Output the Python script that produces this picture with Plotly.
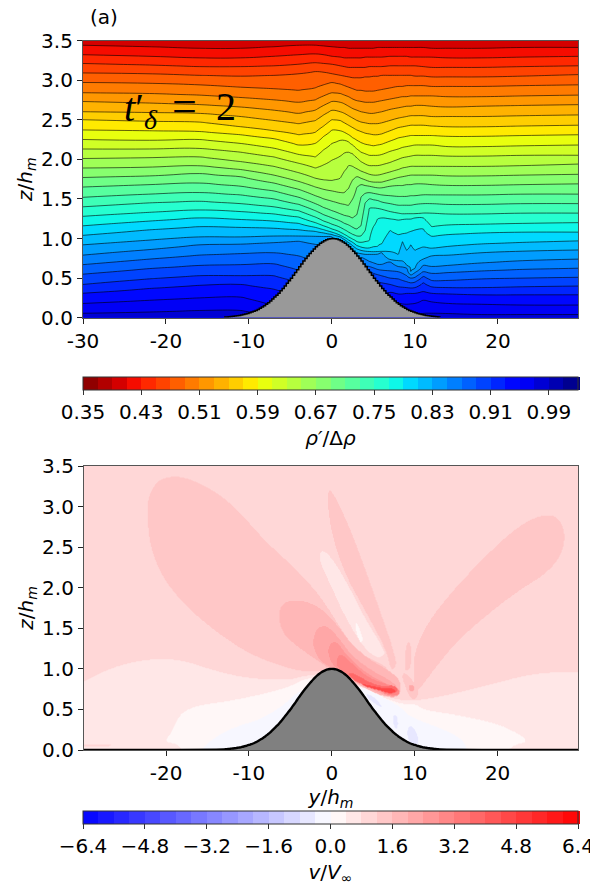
import numpy as np
import plotly.graph_objects as go

# ---------- panel (a): isopycnal heights z/hm read at stations y/hm ----------
stations = [-30,-22,-16,-11,-7,-4,-2,-1, 0,1,1.5,2,2.5,3,3.5,4,4.5,5,5.5,6, 7,8,8.5,9,9.5,10,11,12, 14,18,23,29.7]
first_level = 0.41
level_step = 0.02
isopycnals = [
[3.44,3.42,3.40,3.40,3.42,3.44,3.44,3.43, 3.42,3.41,3.41,3.40,3.40,3.40,3.40,3.40,3.40,3.40,3.41,3.41, 3.41,3.41,3.41,3.41,3.41,3.41,3.41,3.40, 3.40,3.40,3.41,3.41],
[3.32,3.30,3.28,3.28,3.30,3.32,3.33,3.32, 3.30,3.29,3.28,3.28,3.28,3.28,3.28,3.29,3.29,3.29,3.29,3.29, 3.30,3.30,3.30,3.30,3.29,3.29,3.29,3.29, 3.28,3.28,3.29,3.30],
[3.21,3.19,3.17,3.17,3.18,3.20,3.22,3.21, 3.20,3.18,3.17,3.16,3.16,3.16,3.16,3.16,3.17,3.17,3.17,3.17, 3.18,3.18,3.18,3.18,3.18,3.18,3.17,3.16, 3.16,3.16,3.17,3.18],
[3.09,3.08,3.06,3.05,3.06,3.08,3.11,3.10, 3.08,3.06,3.05,3.04,3.03,3.03,3.03,3.04,3.04,3.05,3.05,3.06, 3.06,3.06,3.06,3.06,3.06,3.05,3.05,3.04, 3.04,3.04,3.05,3.07],
[2.97,2.96,2.94,2.91,2.89,2.87,2.90,2.94, 2.97,2.95,2.93,2.91,2.89,2.87,2.87,2.86,2.86,2.86,2.87,2.88, 2.90,2.92,2.92,2.93,2.93,2.93,2.93,2.92, 2.92,2.92,2.93,2.94],
[2.84,2.83,2.81,2.78,2.75,2.72,2.75,2.80, 2.84,2.83,2.81,2.79,2.76,2.74,2.73,2.72,2.72,2.72,2.73,2.74, 2.76,2.78,2.79,2.79,2.80,2.80,2.80,2.80, 2.79,2.79,2.80,2.81],
[2.73,2.71,2.69,2.66,2.62,2.58,2.62,2.68, 2.73,2.72,2.70,2.67,2.64,2.62,2.60,2.59,2.58,2.58,2.59,2.60, 2.63,2.65,2.66,2.67,2.67,2.68,2.68,2.67, 2.66,2.67,2.68,2.69],
[2.60,2.59,2.58,2.54,2.49,2.45,2.49,2.56, 2.62,2.60,2.58,2.55,2.52,2.49,2.47,2.46,2.45,2.45,2.45,2.46, 2.49,2.52,2.53,2.54,2.55,2.55,2.55,2.54, 2.54,2.54,2.55,2.56],
[2.50,2.48,2.47,2.41,2.36,2.31,2.34,2.42, 2.50,2.49,2.46,2.43,2.40,2.37,2.35,2.33,2.32,2.31,2.31,2.32, 2.36,2.40,2.41,2.42,2.43,2.43,2.43,2.42, 2.41,2.41,2.42,2.43],
[2.37,2.36,2.35,2.31,2.26,2.18,2.20,2.29, 2.37,2.36,2.34,2.31,2.27,2.24,2.21,2.19,2.18,2.17,2.18,2.19, 2.23,2.27,2.28,2.29,2.30,2.30,2.30,2.30, 2.29,2.29,2.30,2.31],
[2.25,2.24,2.25,2.20,2.14,2.06,2.03,2.12, 2.20,2.24,2.24,2.22,2.18,2.13,2.09,2.07,2.05,2.05,2.05,2.06, 2.10,2.13,2.15,2.16,2.17,2.18,2.18,2.18, 2.16,2.16,2.17,2.18],
[2.13,2.13,2.14,2.09,2.03,1.95,1.89,1.93, 1.99,2.04,2.08,2.09,2.07,2.02,1.97,1.94,1.92,1.92,1.92,1.93, 1.96,2.00,2.02,2.03,2.04,2.05,2.05,2.05, 2.04,2.04,2.05,2.05],
[2.01,2.02,2.03,1.97,1.91,1.83,1.76,1.74, 1.73,1.76,1.85,1.92,1.91,1.88,1.85,1.83,1.81,1.80,1.80,1.81, 1.84,1.87,1.89,1.90,1.91,1.91,1.91,1.91, 1.91,1.91,1.92,1.94],
[1.89,1.90,1.92,1.87,1.80,1.72,1.65,1.62, 1.60,1.58,1.58,1.63,1.74,1.78,1.76,1.74,1.72,1.71,1.71,1.71, 1.74,1.77,1.78,1.79,1.80,1.80,1.80,1.80, 1.79,1.79,1.80,1.81],
[1.77,1.79,1.82,1.78,1.70,1.62,1.54,1.50, 1.47,1.44,1.43,1.42,1.50,1.65,1.68,1.67,1.66,1.65,1.64,1.64, 1.66,1.67,1.67,1.68,1.68,1.69,1.69,1.68, 1.67,1.67,1.68,1.69],
[1.65,1.68,1.70,1.66,1.60,1.52,1.44,1.39, 1.35,1.31,1.29,1.28,1.26,1.30,1.52,1.57,1.58,1.57,1.56,1.55, 1.54,1.53,1.53,1.53,1.54,1.54,1.55,1.55, 1.55,1.55,1.56,1.56],
[1.52,1.56,1.58,1.55,1.50,1.43,1.35,1.30, 1.26,1.22,1.19,1.17,1.14,1.12,1.16,1.45,1.50,1.49,1.48,1.46, 1.44,1.42,1.42,1.42,1.42,1.43,1.44,1.44, 1.43,1.43,1.44,1.44],
[1.40,1.45,1.47,1.44,1.40,1.35,1.27,1.22, 1.18,1.14,1.11,1.08,1.05,1.03,1.03,1.10,1.38,1.39,1.38,1.37, 1.34,1.32,1.31,1.31,1.31,1.31,1.32,1.32, 1.31,1.31,1.32,1.32],
[1.28,1.33,1.36,1.34,1.31,1.27,1.20,1.16, 1.12,1.08,1.05,1.02,.99,.96,.95,.96,.97,1.15,1.25,1.26, 1.25,1.235,1.24,1.25,1.25,1.26,1.26,1.15, 1.17,1.18,1.19,1.20],
[1.16,1.22,1.26,1.24,1.22,1.19,1.14,1.11, 1.08,1.04,1.01,.98,.95,.91,.89,.88,.88,.89,.90,.93, 1.10,1.05,1.06,1.07,1.09,1.11,1.12,1.03, 1.05,1.07,1.08,1.08],
[1.04,1.11,1.15,1.14,1.13,1.11,1.09,1.07, 1.05,1.02,.99,.95,.91,.87,.85,.84,.835,.83,.83,.83, .83,.80,.96,.85,.92,.85,.89,.876, .90,.93,.95,.97],
[.92,.98,1.02,1.02,1.03,1.03,1.03,1.03, 1.02,.99,.95,.91,.86,.82,.81,.80,.80,.80,.81,.82, .73,.72,.71,.66,.58,.62,.74,.78, .79,.82,.84,.855],
[.79,.86,.92,.93,.95,.97,.93,.90, .80,.80,.80,.78,.76,.74,.76,.74,.71,.69,.67,.67, .71,.645,.64,.63,.54,.57,.66,.645, .66,.69,.72,.74],
[.67,.74,.79,.81,.82,.78,.70,.70, .70,.70,.70,.70,.70,.70,.70,.66,.645,.63,.61,.60, .59,.58,.56,.53,.50,.51,.58,.56, .57,.59,.61,.625],
[.55,.62,.66,.67,.68,.60,.60,.60, .60,.60,.60,.60,.60,.60,.60,.60,.60,.56,.545,.53, .50,.49,.47,.455,.44,.45,.52,.47, .47,.49,.50,.51],
[.42,.49,.53,.53,.53,.45,.45,.45, .45,.45,.45,.45,.45,.45,.45,.45,.45,.45,.455,.44, .42,.39,.385,.38,.375,.38,.44,.39, .38,.38,.39,.40],
[.31,.37,.41,.42,.36,.28,.28,.28, .28,.28,.28,.28,.28,.28,.28,.28,.28,.28,.28,.28, .32,.30,.30,.31,.31,.31,.33,.31, .30,.29,.29,.29],
[.18,.22,.25,.26,.15,.12,.12,.12, .12,.12,.12,.12,.12,.12,.12,.12,.12,.12,.12,.12, .12,.18,.175,.17,.175,.18,.22,.20, .18,.17,.16,.16],
[.055,.07,.09,.09,.03,.02,.02,.02, .02,.02,.02,.02,.02,.02,.02,.02,.02,.02,.02,.02, .02,.02,.02,.02,.02,.02,.05,.055, .05,.04,.04,.04],
]
rho_at_top = 0.40
rho_at_floor = 0.985

# hill profile, read every 0.25 y/hm from the crest outward
hill_half = [1.0,.998,.993,.984,.972,.958,.94,.919,.895,.869,.84,.811,.78,.748,.715,.68,.645,.607,.57,.535,.50,.467,.435,.402,.37,.34,.31,.285,.26,.235,.21,.19,.17,.152,.135,.12,.105,.092,.08,.071,.062,.054,.047,.04,.033,.029,.025,.021,.018,.015,.012,.01,.008]

# ---------- panel (b): outlines of the v/Vinf bands (value, [(y,z), ...]), painted in order ----------
v_background = 1.0
v_regions = [
(0.6, [(-33,.70),(-29.95,.84),(-26.3,1.03),(-21.7,1.13),(-18,1.11),(-14.3,.98),(-10.1,.88),(-5.1,.86),(-3.2,.92),(0,.94),(4.1,.76),(7.4,.62),(10.6,.60),(17.5,.76),(24.4,.95),(29.7,.96),(33,.96),(33,-.3),(-33,-.3)]),
(1.0, [(-33,.07),(-26.5,.07),(-26.5,.045),(-33,.04)]),
(0.2, [(-19.4,.20),(-18.9,.33),(-18,.47),(-16.1,.55),(-12.4,.60),(-7.8,.70),(-5.1,.78),(-3.2,.88),(0,.92),(4.1,.72),(8.8,.55),(10.1,.57),(11.1,.49),(15.2,.43),(19.8,.33),(22.6,.20),(23.7,.10),(21.7,.06),(19.8,-.2),(-18,-.2),(-18.1,.07),(-20.3,.10)]),
(-0.2, [(-15.7,-.1),(-15.7,.02),(-13.8,.18),(-11.5,.29),(-8.8,.37),(-6,.53),(-3.7,.76),(0,.82),(3.7,.78),(6,.66),(8.3,.53),(9.4,.41),(12,.31),(14.7,.20),(16.2,.08),(16.4,-.1)]),
(-0.6, [(7.4,.43),(7.9,.43),(8,.29),(7.7,.25),(7.4,.33)]),
(-0.6, [(9.1,.29),(9.9,.29),(10.6,.10),(10.1,.06),(9.2,.10)]),
(-0.6, [(4.1,.70),(5.3,.64),(6.2,.51),(5.5,.55),(4.3,.64)]),
(1.4, [(-22.2,3.0),(-22.1,3.12),(-21.2,3.3),(-19.8,3.37),(-17.5,3.36),(-14.3,3.2),(-11.5,2.98),(-8.3,2.6),(-5.1,2.3),(-2.3,2.01),(-.5,1.76),(1.4,1.44),(3.2,1.19),(5.5,1.09),(7.1,.98),(6,.70),(0,.98),(-3.2,.96),(-6,1.03),(-10.1,1.19),(-14.3,1.48),(-18,1.81),(-20.7,2.17),(-22.1,2.58)]),
(1.4, [(-.46,3.22),(.2,3.16),(1.6,2.87),(3.2,2.46),(4.8,2.01),(6.2,1.6),(7.4,1.25),(7.8,1.03),(7.1,.98),(6.7,1.19),(5.3,1.48),(3.5,1.81),(1.6,2.17),(.2,2.58),(-.46,2.95)]),
(1.4, [(9.9,1.19),(11.5,1.56),(14.3,1.93),(17.5,2.28),(21.2,2.65),(24,2.85),(26.3,2.91),(27.6,2.83),(28.2,2.63),(27.6,2.38),(25.8,2.17),(22.6,1.97),(18.9,1.68),(15.2,1.35),(12.9,1.07),(11.1,.82),(10.1,.70),(9.9,.94)]),
(1.4, [(8.8,1.11),(9,1.31),(9.4,1.34),(9.7,1.19),(9.4,.98),(8.8,.98)]),
(1.4, [(9.9,.86),(10.6,1.11),(11.1,1.13),(11.2,1.03),(10.5,.82),(9.9,.78)]),
(1.4, [(8.3,.94),(9.2,.94),(10.6,.72),(10.1,.62),(9.4,.64)]),
(1.4, [(6.8,1.25),(7.6,1.19),(7.8,1.03),(7.3,1.01),(6.8,1.15)]),
(2.2, [(9.2,.80),(9.9,.80),(9.9,.72),(9.4,.72)]),
(0.6, [(-1.47,2.44),(-.9,2.46),(.46,2.3),(2.3,1.97),(4.1,1.6),(6,1.29),(6.5,1.17),(5.3,1.13),(3.5,1.31),(1.4,1.68),(-.2,2.05),(-1.4,2.3)]),
(0.2, [(2.8,1.56),(3.1,1.56),(3.8,1.36),(3.5,1.31),(3,1.42)]),
(1.8, [(-6.5,1.68),(-5.8,1.83),(-3.7,1.85),(-1.4,1.76),(.5,1.56),(2.3,1.31),(4.6,1.11),(6.9,.98),(8.3,.86),(8.3,.66),(6,.66),(3.7,.78),(0,.98),(-1.8,1.11),(-4.1,1.27),(-6,1.44)]),
(2.2, [(-2.3,1.35),(-1.8,1.5),(-.7,1.54),(.7,1.4),(2.5,1.15),(5.1,.96),(7.4,.84),(8.4,.70),(7.4,.64),(6,.69),(3.7,.80),(.5,.99),(-1.4,1.09),(-2.1,1.23)]),
(2.6, [(-.55,1.19),(-.2,1.32),(.7,1.33),(1.6,1.19),(3.7,.98),(6,.84),(8,.76),(8.3,.68),(7.1,.66),(6,.72),(3.7,.82),(.5,.98)]),
(3.0, [(.55,1.03),(.7,1.17),(1.4,1.17),(2.8,1.03),(4.6,.88),(6.9,.80),(8.2,.74),(8.2,.68),(6.7,.665),(5.5,.76),(3.7,.83),(1.4,.96)]),
(3.8, [(1.8,.96),(2.8,.94),(4.4,.84),(6,.78),(7.6,.80),(8.1,.72),(6.9,.69),(6.2,.74),(4.1,.80),(2.8,.84)]),
(4.6, [(3.5,.82),(6,.76),(7.4,.76),(7.8,.71),(6.8,.70),(6,.73),(4.1,.78)]),
]

# tick labels
a_xticks = [-30,-20,-10,0,10,20]
b_xticks = [-20,-10,0,10,20]
z_ticks = [0,.5,1,1.5,2,2.5,3,3.5]
rho_ticks = [.35,.43,.51,.59,.67,.75,.83,.91,.99]
v_ticks = [-6.4,-4.8,-3.2,-1.6,0,1.6,3.2,4.8,6.4]

# ---------- derive the grids the contour traces need ----------
# the page body has an 8px margin, so the figure is 8px smaller and positions are shifted
W, H = 590, 878
OFF = 8
def fx(px):
    return (px-OFF)/W
def fy(py):
    return 1-(py-OFF)/H

FONT = "DejaVu Sans"
FS = 20
heights = np.array(isopycnals)
levels = first_level + level_step*np.arange(len(isopycnals))
zrows = np.linspace(0, 3.5, 176)
rho = np.zeros((zrows.size, len(stations)))
for j in range(len(stations)):
    zs = heights[::-1, j] + 1e-4*np.arange(heights.shape[0])
    zs = np.maximum.accumulate(zs)
    rs = levels[::-1]
    rho[:, j] = np.interp(zrows, np.r_[-0.01, zs, 3.5], np.r_[rho_at_floor, rs, rho_at_top])

hill_half_y = 0.25*np.arange(len(hill_half))
hill_y = np.r_[-hill_half_y[::-1], hill_half_y[1:]]
hill_z = np.r_[hill_half[::-1], hill_half[1:]]

def chaikin(pts, n=2):
    p = np.array(pts, float)
    for _ in range(n):
        q = np.roll(p, -1, axis=0)
        p = np.column_stack([0.75*p+0.25*q, 0.25*p+0.75*q]).reshape(-1, 2)
    return p

def inside(px, py, poly):
    res = np.zeros(px.shape, bool)
    x0, y0 = poly[:, 0], poly[:, 1]
    x1, y1 = np.roll(x0, -1), np.roll(y0, -1)
    for a, b, c, d in zip(x0, y0, x1, y1):
        if b == d:
            continue
        cross = ((b > py) != (d > py)) & (px < (c-a)*(py-b)/(d-b)+a)
        res ^= cross
    return res

yg = np.linspace(-29.9, 29.7, 500)
zg = np.linspace(0, 3.5, 284)
YY, ZZ = np.meshgrid(yg, zg)
vfield = np.full(YY.shape, v_background)
for val, outline in v_regions:
    vfield[inside(YY, ZZ, chaikin(outline))] = val

# colour maps
t = np.linspace(0, 1, 69)
r = np.interp(t, [0,.35,.66,.89,1], [0,0,1,1,.5])
g = np.interp(t, [0,.125,.375,.64,.91,1], [0,0,1,1,0,0])
b = np.interp(t, [0,.11,.34,.65,1], [.5,1,1,0,0])
jet_r = [[float(1-u), f"rgb({int(255*x)},{int(255*y)},{int(255*z)})"] for u, x, y, z in zip(t, r, g, b)][::-1]
bwr = [[0, "rgb(0,0,255)"], [.5, "rgb(255,255,255)"], [1, "rgb(255,0,0)"]]

L, R = fx(83), fx(578)

fig = go.Figure()

def cbar(top, ticks, text, title):
    return dict(orientation="h", x=(L+R)/2, xanchor="center", len=R-L, lenmode="fraction",
                y=fy(top), yanchor="top", ypad=0, xpad=0, thickness=13, thicknessmode="pixels",
                outlinecolor="#333", outlinewidth=1, ticks="outside", ticklen=5, tickcolor="#333",
                tickmode="array", tickvals=ticks, ticktext=text,
                tickfont=dict(family=FONT, size=FS, color="black"),
                title=dict(text=title, side="bottom", font=dict(family=FONT, size=FS, color="black")))

fig.add_trace(go.Contour(x=stations, y=zrows, z=rho, xaxis="x", yaxis="y", zmin=.35, zmax=1.03, zauto=False,
    autocontour=False, contours=dict(start=.35, end=1.03, size=.02, coloring="fill", showlines=False),
    line=dict(width=0, smoothing=1.3), colorscale=jet_r,
    colorbar=cbar(377, rho_ticks, [f"{x:.2f}" for x in rho_ticks], "<i>ρ′</i>/Δ<i>ρ</i>"), hoverinfo="skip"))
fig.add_trace(go.Contour(x=stations, y=zrows, z=rho, xaxis="x", yaxis="y", autocontour=False, showscale=False,
    contours=dict(start=.41, end=.97, size=.02, coloring="none", showlines=True),
    line=dict(color="rgba(0,0,0,0.75)", width=0.8, smoothing=1.3), hoverinfo="skip"))
fig.add_trace(go.Scatter(x=hill_y, y=hill_z, xaxis="x", yaxis="y", mode="lines", fill="tozeroy", fillcolor="#999999",
    line=dict(color="black", width=1.5, shape="hv"), showlegend=False, hoverinfo="skip"))

fig.add_trace(go.Contour(x=yg, y=zg, z=vfield, xaxis="x2", yaxis="y2", zmin=-6.4, zmax=6.4, zauto=False,
    autocontour=False, contours=dict(start=-6.4, end=6.4, size=.4, coloring="fill", showlines=False),
    line=dict(width=0), colorscale=bwr,
    colorbar=cbar(811, v_ticks, [f"{x:.1f}".replace("-", "−") for x in v_ticks], "<i>v</i>/<i>V</i><sub>∞</sub>"), hoverinfo="skip"))
fig.add_trace(go.Scatter(x=np.r_[-30, hill_y, 30], y=np.r_[0, hill_z, 0], xaxis="x2", yaxis="y2", mode="lines",
    fill="tozeroy", fillcolor="#808080", line=dict(color="black", width=2.4, shape="spline"), showlegend=False, hoverinfo="skip"))

axis = dict(showgrid=False, zeroline=False, showline=True, mirror=True, linecolor="#555", linewidth=1.2,
            ticks="outside", ticklen=5, tickcolor="#222", tickfont=dict(family=FONT, size=FS, color="black"))
ztitle = dict(text="<i>z</i>/<i>h</i><sub><i>m</i></sub>", font=dict(family=FONT, size=FS, color="black"), standoff=3)
fig.update_layout(
    width=W, height=H, autosize=False, paper_bgcolor="white", plot_bgcolor="white", showlegend=False,
    margin=dict(l=0, r=0, t=0, b=0, autoexpand=False),
    xaxis=dict(axis, domain=[L, R], range=[-30, 29.65], anchor="y", tickmode="array", tickvals=a_xticks, ticktext=[str(v) for v in a_xticks]),
    yaxis=dict(axis, domain=[fy(317.7), fy(40.7)], range=[0, 3.5], anchor="x", tickmode="array", tickvals=z_ticks, ticktext=[f"{v:.1f}" for v in z_ticks], title=ztitle),
    xaxis2=dict(axis, domain=[fx(84), R], range=[-29.9, 29.7], anchor="y2", tickmode="array", tickvals=b_xticks, ticktext=[str(v) for v in b_xticks],
                title=dict(text="<i>y</i>/<i>h</i><sub><i>m</i></sub>", font=dict(family=FONT, size=FS, color="black"), standoff=1)),
    yaxis2=dict(axis, domain=[fy(750), fy(466)], range=[0, 3.5], anchor="x2", tickmode="array", tickvals=z_ticks, ticktext=[f"{v:.1f}" for v in z_ticks], title=ztitle),
    annotations=[
        dict(text="(a)", x=fx(88), y=fy(17), xref="paper", yref="paper", xanchor="left", yanchor="middle", showarrow=False,
             font=dict(family=FONT, size=FS, color="black")),
        dict(text="<i>t</i>′<sub><i>δ</i></sub>", x=fx(122), y=fy(110), xref="paper", yref="paper", xanchor="left", yanchor="middle", showarrow=False,
             font=dict(family="Liberation Serif", size=40, color="black")),
        dict(text="=", x=fx(170), y=fy(106), xref="paper", yref="paper", xanchor="left", yanchor="middle", showarrow=False,
             font=dict(family="Liberation Serif", size=44, color="black")),
        dict(text="2", x=fx(214), y=fy(106), xref="paper", yref="paper", xanchor="left", yanchor="middle", showarrow=False,
             font=dict(family="Liberation Serif", size=40, color="black")),
    ],
)
fig.write_html("out.html")
